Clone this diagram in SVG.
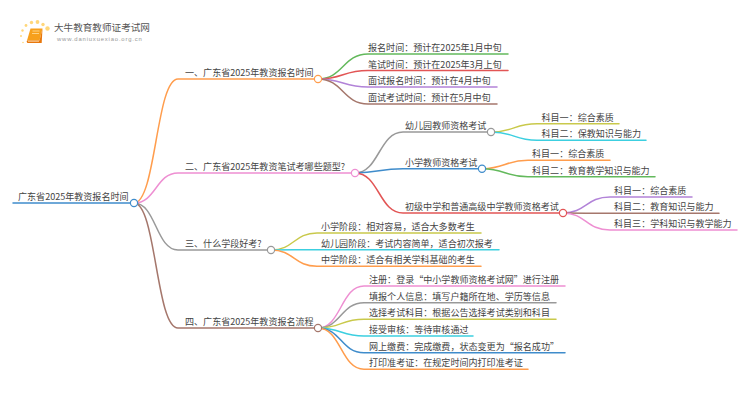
<svg xmlns="http://www.w3.org/2000/svg" width="750" height="410" viewBox="0 0 750 410">
<style>
text{font-family:"Noto Sans CJK SC","Noto Sans",sans-serif;font-size:9.05px;fill:#444}
.c{fill:none;stroke-width:1.5;stroke-linecap:round}
.dot{fill:#fff;stroke-width:1.2}
.or{stroke:#ff9d4d}.pk{stroke:#ee8fd2}.gy{stroke:#999}.br{stroke:#a5776c}.gn{stroke:#63b95c}.rd{stroke:#e25555}.pu{stroke:#b283d8}.bl{stroke:#3f8ccb}.yl{stroke:#c9c94b}.cy{stroke:#3ccfe0}
.logo1{font-size:9.6px;fill:#555}
.logo2{font-family:"Liberation Sans",sans-serif;font-size:5.9px;letter-spacing:.82px;fill:#999}
</style>
<rect width="750" height="410" fill="#fff"/>
<g id="logo">
<g fill="#ffd77a">
<circle cx="47.500" cy="28.500" r="2.200"/><circle cx="43" cy="24.500" r="1.700"/><circle cx="37.500" cy="22" r="1.900"/><circle cx="31.500" cy="22.500" r="1.700"/><circle cx="26" cy="25.500" r="1.400"/><circle cx="22.500" cy="30.500" r="1.200"/><circle cx="21" cy="36" r="1"/><circle cx="23" cy="42.500" r=".8"/>
</g>
<path d="M30.500 28.500h12l-3 12h-12.500z" fill="#f7a01c"/>
<path d="M27 40.500h12.500l3-12-.8 14.500h-14.200q-1.500-1.200-.5-2.500z" fill="#e8770c"/>
<path d="M28 41.300h11" stroke="#ffe9c4" stroke-width=".7" fill="none"/>
<path d="M32.500 31h7M32 33.500h7" stroke="#ffe0a0" stroke-width=".8" fill="none"/>
<text class="logo1" x="54" y="31">大牛教育教师证考试网</text>
<text class="logo2" x="57" y="41">www.daniuxuexiao.org.cn</text>
</g>
<g id="connectors">
<path class="c bl" d="M13 203H134"/>
<path class="c or" d="M134 203C156 203 156 79 178 79H318"/>
<path class="c pk" d="M134 203C156 203 156 173 178 173H355"/>
<path class="c gy" d="M134 203C156 203 156 250 178 250H271"/>
<path class="c br" d="M134 203C156 203 156 328 178 328H318"/>
<path class="c gn" d="M318 79C343 79 343 54 368 54H508"/>
<path class="c rd" d="M318 79C343 79 343 70.500 368 70.500H508"/>
<path class="c pu" d="M318 79C343 79 343 87 368 87H497"/>
<path class="c br" d="M318 79C343 79 343 104 368 104H497"/>
<path class="c gy" d="M355 173C379 173 379 132 403 132H491"/>
<path class="c bl" d="M355 173C379 173 379 168.700 403 168.700H482"/>
<path class="c rd" d="M355 173C379 173 379 213 403 213H563"/>
<path class="c yl" d="M491 132C514 132 514 123.700 537 123.700H619"/>
<path class="c cy" d="M491 132C514 132 514 140.300 537 140.300H646"/>
<path class="c or" d="M482 168.700C505 168.700 505 160.300 528 160.300H610"/>
<path class="c gn" d="M482 168.700C505 168.700 505 176.700 528 176.700H655"/>
<path class="c pu" d="M563 213C586 213 586 197 610 197H692"/>
<path class="c br" d="M563 213C586 213 586 213.300 610 213.300H719"/>
<path class="c pk" d="M563 213C586 213 586 230 610 230H737"/>
<path class="c yl" d="M271 250C294 250 294 233 317 233H481"/>
<path class="c cy" d="M271 250C294 250 294 249.700 317 249.700H499"/>
<path class="c or" d="M271 250C294 250 294 266.300 317 266.300H481"/>
<path class="c pk" d="M318 328C341 328 341 286 364 286H565"/>
<path class="c gy" d="M318 328C341 328 341 302.700 364 302.700H556"/>
<path class="c yl" d="M318 328C341 328 341 319.300 364 319.300H556"/>
<path class="c cy" d="M318 328C341 328 341 336 364 336H473"/>
<path class="c bl" d="M318 328C341 328 341 352.700 364 352.700H565"/>
<path class="c or" d="M318 328C341 328 341 369.300 364 369.300H528"/>
</g>
<g id="root"><text x="18" y="200">广东省2025年教资报名时间</text><circle class="dot bl" cx="134" cy="203" r="3.600"/></g>
<g id="n1"><text x="185" y="76">一、广东省2025年教资报名时间</text><circle class="dot or" cx="318" cy="79" r="3.600"/></g>
<g id="n1-1"><text x="368" y="51">报名时间：预计在2025年1月中旬</text></g>
<g id="n1-2"><text x="368" y="67.500">笔试时间：预计在2025年3月上旬</text></g>
<g id="n1-3"><text x="368" y="84">面试报名时间：预计在4月中旬</text></g>
<g id="n1-4"><text x="368" y="101">面试考试时间：预计在5月中旬</text></g>
<g id="n2"><text x="185" y="170">二、广东省2025年教资笔试考哪些题型?</text><circle class="dot pk" cx="355" cy="173" r="3.600"/></g>
<g id="n2-1"><text x="405" y="129">幼儿园教师资格考试</text><circle class="dot gy" cx="491" cy="132" r="3.600"/></g>
<g id="n2-1-1"><text x="541.500" y="120.700">科目一：综合素质</text></g>
<g id="n2-1-2"><text x="541.500" y="137.300">科目二：保教知识与能力</text></g>
<g id="n2-2"><text x="405" y="165.700">小学教师资格考试</text><circle class="dot bl" cx="482" cy="168.700" r="3.600"/></g>
<g id="n2-2-1"><text x="532" y="157.300">科目一：综合素质</text></g>
<g id="n2-2-2"><text x="532" y="173.700">科目二：教育教学知识与能力</text></g>
<g id="n2-3"><text x="405" y="210">初级中学和普通高级中学教师资格考试</text><circle class="dot rd" cx="563" cy="213" r="3.600"/></g>
<g id="n2-3-1"><text x="614" y="194">科目一：综合素质</text></g>
<g id="n2-3-2"><text x="614" y="210.300">科目二：教育知识与能力</text></g>
<g id="n2-3-3"><text x="614" y="227">科目三：学科知识与教学能力</text></g>
<g id="n3"><text x="185" y="247">三、什么学段好考?</text><circle class="dot gy" cx="271" cy="250" r="3.600"/></g>
<g id="n3-1"><text x="321" y="230">小学阶段：相对容易，适合大多数考生</text></g>
<g id="n3-2"><text x="321" y="246.700">幼儿园阶段：考试内容简单，适合初次报考</text></g>
<g id="n3-3"><text x="321" y="263.300">中学阶段：适合有相关学科基础的考生</text></g>
<g id="n4"><text x="185" y="325">四、广东省2025年教资报名流程</text><circle class="dot br" cx="318" cy="328" r="3.600"/></g>
<g id="n4-1"><text x="369" y="283">注册：登录“中小学教师资格考试网”进行注册</text></g>
<g id="n4-2"><text x="369" y="299.700">填报个人信息：填写户籍所在地、学历等信息</text></g>
<g id="n4-3"><text x="369" y="316.300">选择考试科目：根据公告选择考试类别和科目</text></g>
<g id="n4-4"><text x="369" y="333">接受审核：等待审核通过</text></g>
<g id="n4-5"><text x="369" y="349.700">网上缴费：完成缴费，状态变更为“报名成功”</text></g>
<g id="n4-6"><text x="369" y="366.300">打印准考证：在规定时间内打印准考证</text></g>
</svg>
